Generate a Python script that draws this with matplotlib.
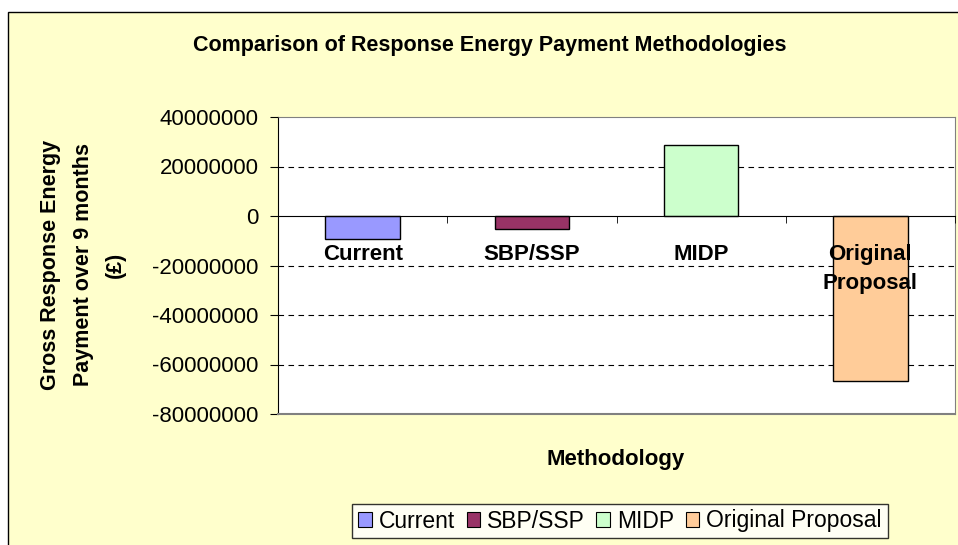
import matplotlib
matplotlib.use("Agg")
import matplotlib.pyplot as plt
from matplotlib.patches import Rectangle, Patch
from matplotlib.ticker import FixedLocator

# data
methods = ["Current", "SBP/SSP", "MIDP", "Original Proposal"]
tick_labels = ["Current", "SBP/SSP", "MIDP", "Original\nProposal"]
payments = [-9300000, -5300000, 28700000, -66800000]
bar_colors = ["#9999FF", "#993366", "#CCFFCC", "#FFCC99"]
y_ticks = [40000000, 20000000, 0, -20000000, -40000000, -60000000, -80000000]

CHART_BG = "#FFFFCC"
W, H = 958, 545

plt.rcParams["font.family"] = ["Liberation Sans", "DejaVu Sans"]

fig = plt.figure(figsize=(W / 100, H / 100), dpi=100, facecolor="white")

# chart area box
fig.add_artist(Rectangle((7.5 / W, -0.1), 1.1, 1.1 - 12 / H, transform=fig.transFigure,
                         facecolor=CHART_BG, edgecolor="black", linewidth=1, zorder=0))

ax = fig.add_axes([278 / W, (H - 414) / H, (955 - 278) / W, (414 - 117) / H])
ax.set_facecolor("white")
ax.set_axisbelow(False)

x = list(range(len(methods)))
ax.bar(x, payments, width=0.44, color=bar_colors, edgecolor="black", linewidth=1, zorder=2)

ax.set_xlim(-0.5, len(methods) - 0.5)
ax.set_ylim(-80000000, 40000000)
ax.set_yticks(y_ticks)
ax.set_yticklabels([str(v) for v in y_ticks], fontsize=16)

for v in y_ticks[1:-1]:
    if v != 0:
        ax.axhline(v, color="black", linestyle=(0, (5, 4)), linewidth=0.8, zorder=1)

# category axis at zero
ax.spines["bottom"].set_position(("data", 0))
ax.spines["bottom"].set_color("black")
ax.spines["left"].set_color("black")
for s in ["top", "right"]:
    ax.spines[s].set_color("#808080")
ax.axhline(-80000000, color="#808080", linewidth=1.5, zorder=4, clip_on=False)

ax.set_xticks(x)
ax.set_xticklabels(tick_labels, fontsize=16, fontweight="bold")
for t in ax.get_xticklabels():
    t.set_linespacing(1.5)
ax.xaxis.set_minor_locator(FixedLocator([i - 0.5 for i in range(len(methods) + 1)]))
ax.tick_params(axis="x", which="major", length=0, pad=20)
ax.tick_params(axis="x", which="minor", length=5, direction="out", color="black")
ax.tick_params(axis="y", length=6, direction="out", pad=8)

fig.text(490 / W, 1 - 46 / H, "Comparison of Response Energy Payment Methodologies",
         ha="center", va="center", fontsize=15.5, fontweight="bold")
fig.text(83 / W, 1 - 265 / H, "Gross Response Energy\nPayment over 9 months\n(£)",
         ha="center", va="center", rotation=90, fontsize=15.5, fontweight="bold",
         linespacing=1.7)
fig.text(616 / W, 1 - 459 / H, "Methodology", ha="center", va="center",
         fontsize=16, fontweight="bold")

handles = [Patch(facecolor=c, edgecolor="black", linewidth=0.8) for c in bar_colors]
leg = fig.legend(handles, methods, loc="center", bbox_to_anchor=(620 / W, 1 - 521 / H),
                 ncol=4, fontsize=16.5, frameon=True, fancybox=False, handlelength=0.6,
                 handleheight=0.6, handletextpad=0.3, columnspacing=0.5,
                 borderpad=0.25, borderaxespad=0)
leg.get_frame().set_edgecolor("black")
leg.get_frame().set_linewidth(1)
leg.get_frame().set_facecolor("white")

fig.savefig("out.png", dpi=100, facecolor="white")
